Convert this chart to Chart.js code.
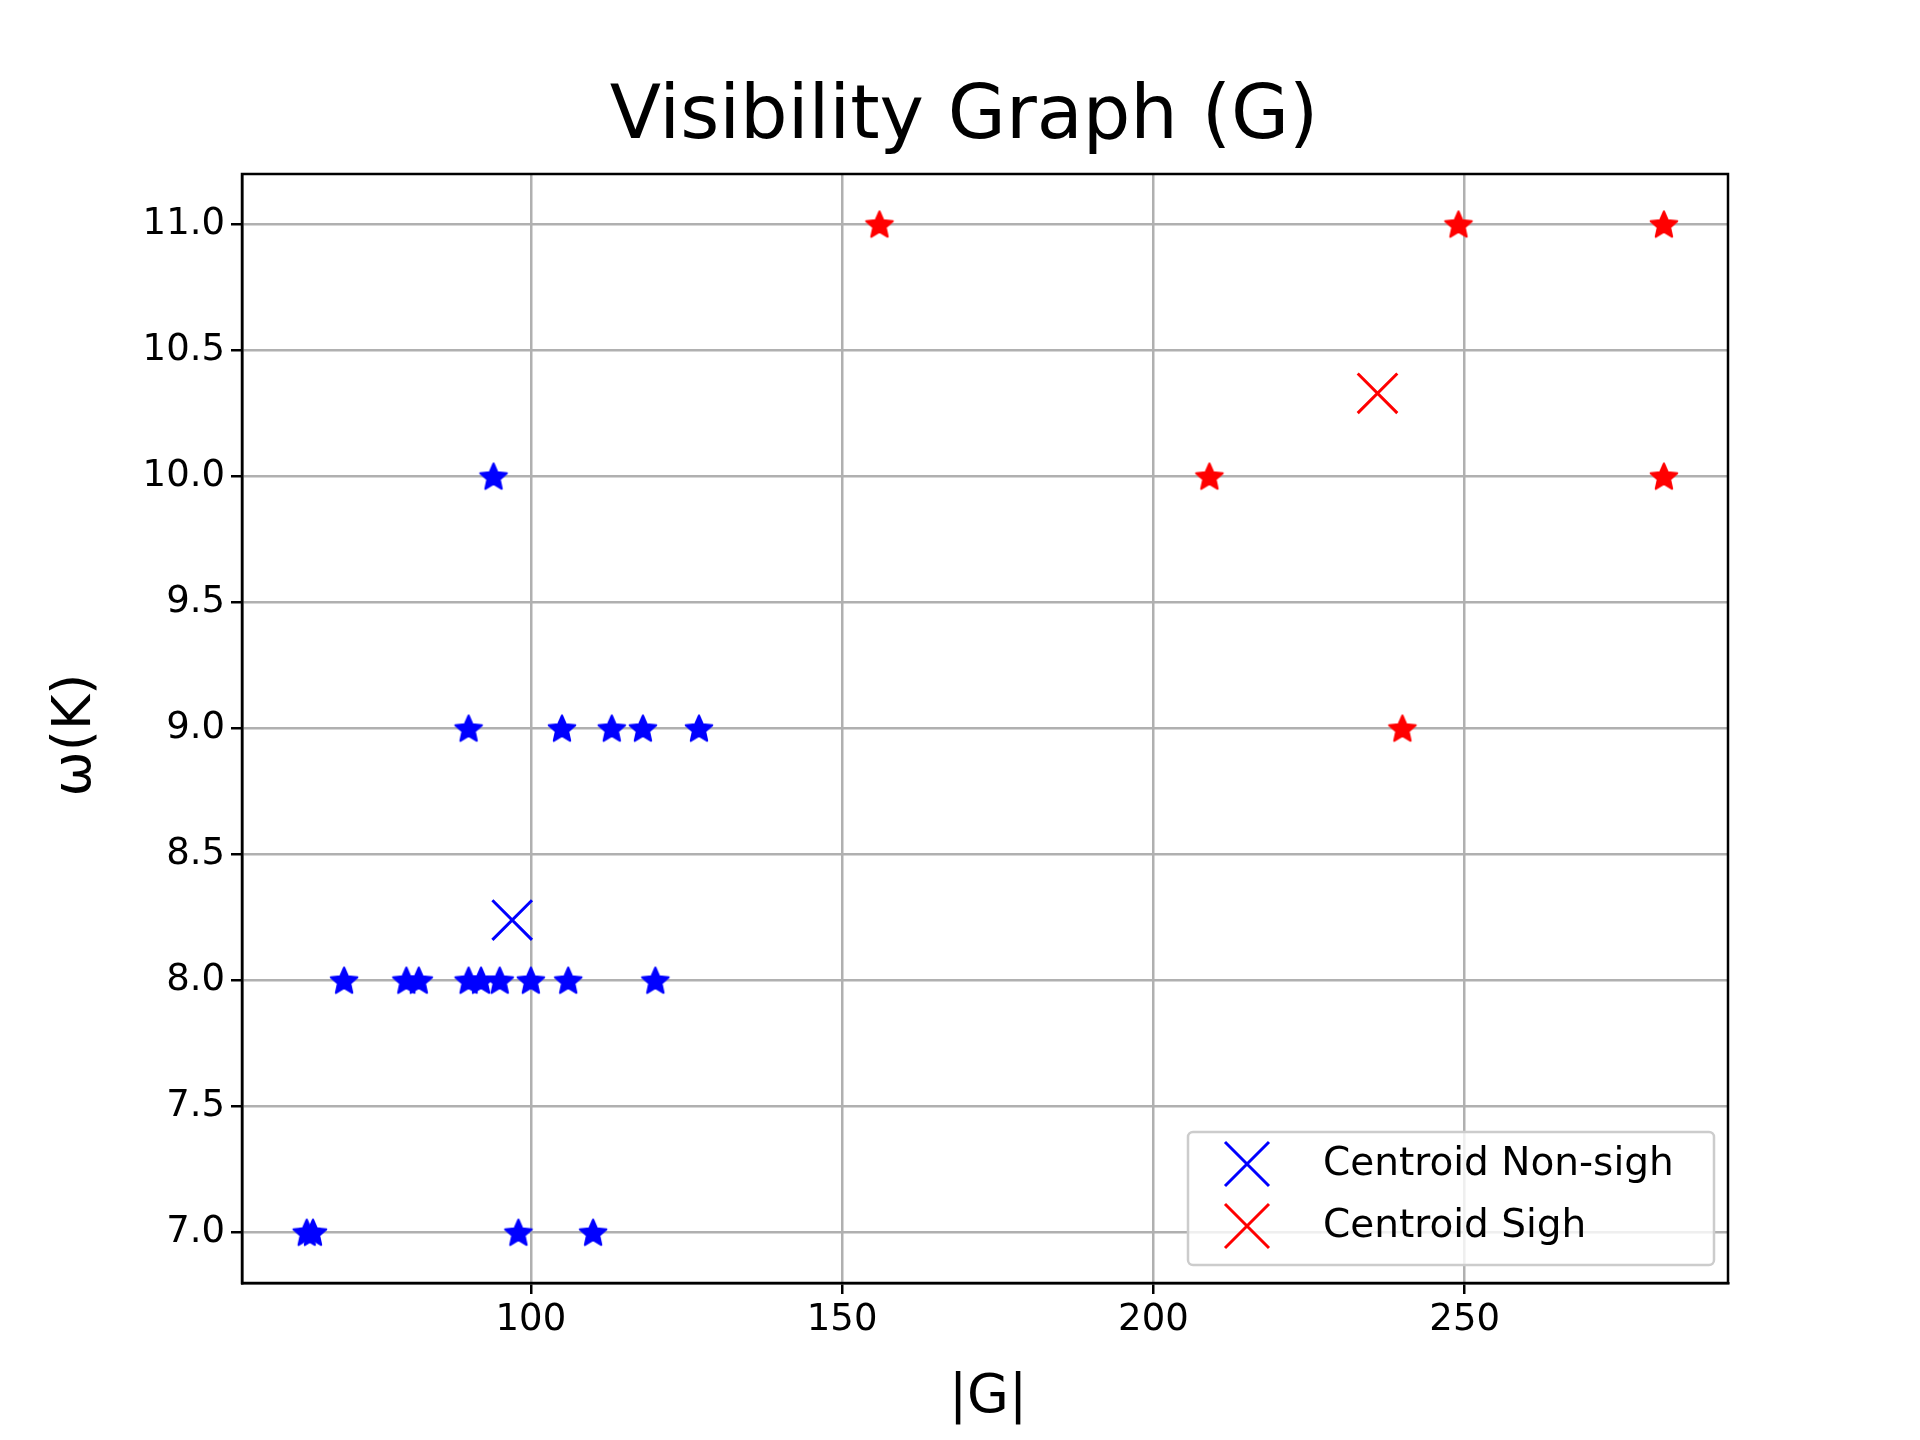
<!DOCTYPE html>
<html><head><meta charset="utf-8">
<script src="https://cdn.jsdelivr.net/npm/chart.js@4"></script>
<style>body{margin:0;background:#fff}#w{width:1920px;height:1440px}</style>
</head><body><div id="w"><canvas id="c"></canvas></div>
<script>
const nonSighX = [70,80,82,90,92,95,100,106,120, 64,65,98,110, 90,105,113,118,127, 94];
const nonSighY = [8,8,8,8,8,8,8,8,8, 7,7,7,7, 9,9,9,9,9, 10];
const sighX = [156,249,282,209,282,240];
const sighY = [11,11,11,10,10,9];
const centroidNonSigh = [97, 8.24];
const centroidSigh = [236, 10.33];
const xTicks = [100,150,200,250];
const yTicks = [7.0,7.5,8.0,8.5,9.0,9.5,10.0,10.5,11.0];

function starImg(color){
  const s=32,c=document.createElement('canvas');c.width=s;c.height=s;
  const g=c.getContext('2d');g.fillStyle=color;g.strokeStyle=color;g.lineWidth=2;g.lineJoin='round';g.beginPath();
  for(let i=0;i<10;i++){const r=i%2?6.5:14;const a=-Math.PI/2+i*Math.PI/5;
    g.lineTo(s/2+r*Math.cos(a),s/2+1+r*Math.sin(a));}
  g.closePath();g.fill();g.stroke();return c;
}
const pts=(xs,ys)=>xs.map((x,i)=>({x,y:ys[i]}));
const F='"DejaVu Sans", sans-serif';
const deco={id:'deco',afterDraw(ch){
  const g=ch.ctx;g.save();g.fillStyle='#000';g.textAlign='center';g.textBaseline='middle';
  g.font='75px '+F;g.fillText('Visibility Graph (G)',964,119);
  g.font='54px '+F;g.fillText('|G|',988,1398);
  g.save();g.translate(76,735);g.rotate(-Math.PI/2);g.fillText('ω(K)',0,0);g.restore();
  const x0=1188,y0=1132,w=526,h=133;
  g.fillStyle='rgba(255,255,255,0.8)';g.strokeStyle='#cccccc';g.lineWidth=2.5;
  g.beginPath();g.roundRect(x0,y0,w,h,5);g.fill();g.stroke();
  const items=[['Centroid Non-sigh','#0000ff',1164],['Centroid Sigh','#ff0000',1226]];
  g.textAlign='left';g.font='39px '+F;g.fillStyle='#000';
  items.forEach(([t,c,y])=>{g.strokeStyle=c;g.lineWidth=3;g.beginPath();
    g.moveTo(1225,y-22);g.lineTo(1269,y+22);g.moveTo(1269,y-22);g.lineTo(1225,y+22);g.stroke();
    g.fillText(t,1323,y+1);});
  g.restore();}};
new Chart(document.getElementById('c'),{
  type:'scatter',
  data:{datasets:[
    {data:pts(nonSighX,nonSighY),pointStyle:starImg('#0000ff')},
    {data:pts(sighX,sighY),pointStyle:starImg('#ff0000')},
    {data:[{x:centroidNonSigh[0],y:centroidNonSigh[1]}],pointStyle:'crossRot',pointRadius:28,borderColor:'#0000ff',borderWidth:3},
    {data:[{x:centroidSigh[0],y:centroidSigh[1]}],pointStyle:'crossRot',pointRadius:28,borderColor:'#ff0000',borderWidth:3}
  ]},
  options:{responsive:true,maintainAspectRatio:false,animation:false,devicePixelRatio:1,
    layout:{padding:{top:174,right:192,left:0,bottom:0}},
    plugins:{legend:{display:false},tooltip:{enabled:false}},
    scales:{
      x:{min:53.6,max:292.3,afterBuildTicks(s){s.ticks=xTicks.map(v=>({value:v}));},
        afterFit(s){s.height=157;},
        grid:{color:'#b0b0b0',lineWidth:2.5,tickColor:'#000',tickLength:11},
        border:{color:'#000',width:2.5},
        ticks:{color:'#000',font:{family:F,size:37},padding:4,maxRotation:0}},
      y:{min:6.8,max:11.2,afterBuildTicks(s){s.ticks=yTicks.map(v=>({value:v}));},
        afterFit(s){s.width=242;},
        grid:{color:'#b0b0b0',lineWidth:2.5,tickColor:'#000',tickLength:11},
        border:{color:'#000',width:2.5},
        ticks:{color:'#000',font:{family:F,size:37},padding:6,callback:v=>v.toFixed(1)}}
    }},
  plugins:[deco,{id:'frame',afterDraw(ch){const a=ch.chartArea,g=ch.ctx;g.save();g.strokeStyle='#000';g.lineWidth=2.5;g.strokeRect(a.left,a.top,a.right-a.left,a.bottom-a.top);g.restore();}}]
});
</script></body></html>
